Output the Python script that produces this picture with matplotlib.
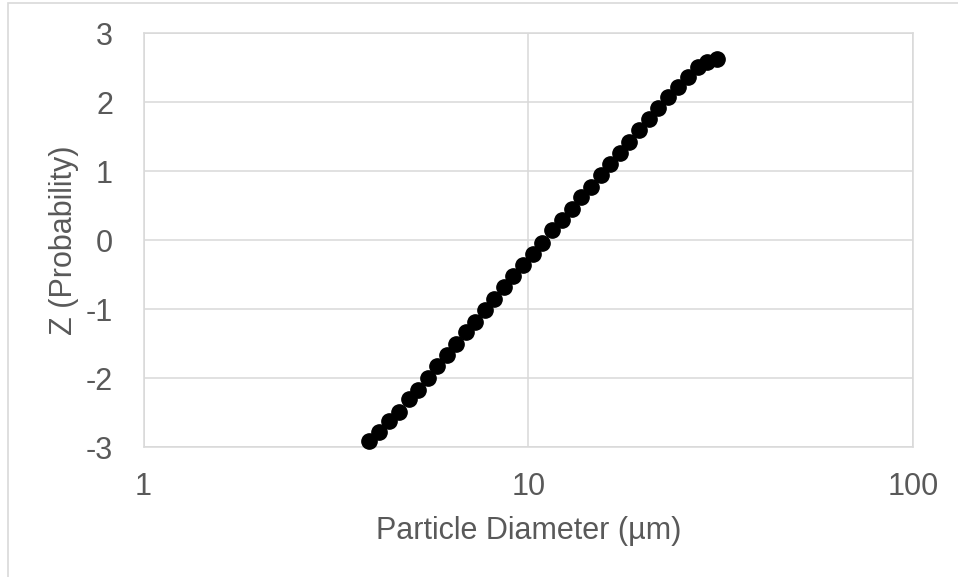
import matplotlib
matplotlib.use("Agg")
import matplotlib.pyplot as plt
from matplotlib.patches import Rectangle

# Particle diameters (um) and standard normal Z values
diameter_um = [
    3.85, 4.09, 4.34, 4.61, 4.89, 5.17, 5.48, 5.79, 6.14, 6.48,
    6.88, 7.26, 7.71, 8.14, 8.64, 9.12, 9.68, 10.28, 10.85, 11.51,
    12.23, 12.98, 13.70, 14.54, 15.44, 16.29, 17.30, 18.26, 19.39, 20.58,
    21.72, 23.06, 24.48, 25.98, 27.59, 29.12, 30.91,
]
z_probability = [
    -2.92, -2.78, -2.63, -2.49, -2.31, -2.17, -2.00, -1.82, -1.66, -1.50,
    -1.33, -1.18, -1.01, -0.85, -0.68, -0.52, -0.36, -0.20, -0.04, 0.14,
    0.29, 0.45, 0.63, 0.77, 0.95, 1.11, 1.27, 1.43, 1.60, 1.76,
    1.92, 2.08, 2.22, 2.37, 2.51, 2.58, 2.63,
]
x_ticks = [1, 10, 100]
x_tick_labels = ["1", "10", "100"]
y_ticks = [-3, -2, -1, 0, 1, 2, 3]

plt.rcParams["font.family"] = ["Liberation Sans", "DejaVu Sans"]
plt.rcParams["axes.unicode_minus"] = False

text_color = "#595959"
grid_color = "#d9d9d9"

fig = plt.figure(figsize=(9.58, 5.77), dpi=100)
ax = fig.add_axes([0.1499, 0.2253, 0.8035, 0.717])

# Outer chart frame
fig.patches.append(Rectangle((8 / 958, -0.1), 1.2, (574 / 577) + 0.1,
                             transform=fig.transFigure, fill=False,
                             edgecolor=grid_color, linewidth=1.2))

ax.plot(diameter_um, z_probability, linestyle="none", marker="o",
        markersize=11, color="black", zorder=3, clip_on=False)

ax.set_xscale("log")
ax.set_xlim(1, 100)
ax.set_ylim(-3, 3)
ax.set_xticks(x_ticks)
ax.set_xticklabels(x_tick_labels)
ax.set_yticks(y_ticks)
ax.minorticks_off()

ax.grid(True, which="major", color=grid_color, linewidth=1.1)
ax.set_axisbelow(True)
for side in ["top", "right", "left", "bottom"]:
    ax.spines[side].set_color(grid_color)
    ax.spines[side].set_linewidth(1.1)

ax.tick_params(axis="both", length=0, labelsize=22, labelcolor=text_color)
ax.tick_params(axis="y", pad=22)
ax.tick_params(axis="x", pad=18)

ax.set_xlabel("Particle Diameter (µm)", fontsize=22, color=text_color, labelpad=10)
ax.set_ylabel("Z (Probability)", fontsize=22, color=text_color, labelpad=5)

fig.savefig("out.png", dpi=100)
